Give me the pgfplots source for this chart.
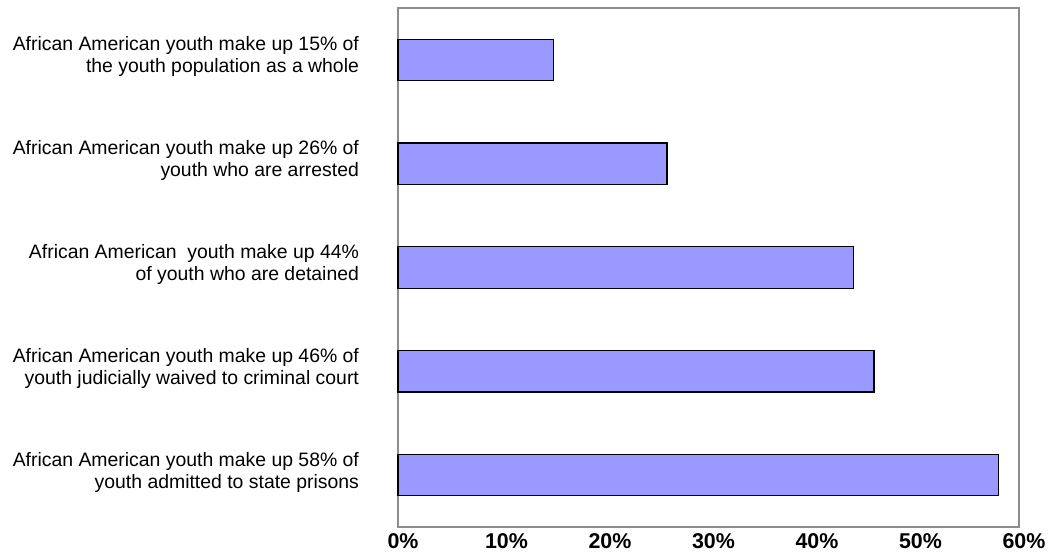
\documentclass[border=0pt]{standalone}
\usepackage{pgfplots}
\pgfplotsset{compat=1.18}
\usepackage{fontspec}
\setmainfont{Liberation Sans}
\definecolor{barfill}{HTML}{9999FF}
\definecolor{framegray}{HTML}{8C8C8C}
\begin{document}
\begin{tikzpicture}
\path[use as bounding box] (-199pt,-13pt) rectangle (327pt,263.5pt);
\begin{axis}[
  at={(0,0)}, anchor=south west,
  scale only axis, width=310.5pt, height=259.5pt,
  xmin=0, xmax=60, ymin=0.5, ymax=5.5,
  axis line style={framegray, line width=0.8pt},
  xtick={0,10,20,30,40,50,60},
  xticklabels={0\%,10\%,20\%,30\%,40\%,50\%,60\%},
  xticklabel style={font=\fontsize{10.7}{12}\selectfont\bfseries, xshift=2.5pt, yshift=0.5pt},
  major tick length=0pt,
  ytick={1,2,3,4,5},
  yticklabels={
    {African American youth make up 58\% of\\youth admitted to state prisons},
    {African American youth make up 46\% of\\youth judicially waived to criminal court},
    {African American\ \ youth make up 44\%\\of youth who are detained},
    {African American youth make up 26\% of\\youth who are arrested\ },
    {African American youth make up 15\% of\\the youth population as a whole}},
  yticklabel style={align=right, font=\fontsize{9.7}{11}\selectfont, xshift=-16pt, yshift=1.5pt},
  xbar, bar width=0.4,
  clip=false,
]
\addplot[fill=barfill, draw=black, line width=0.6pt] coordinates {
  (58,1) (46,2) (44,3) (26,4) (15,5)
};
\end{axis}
\end{tikzpicture}
\end{document}
